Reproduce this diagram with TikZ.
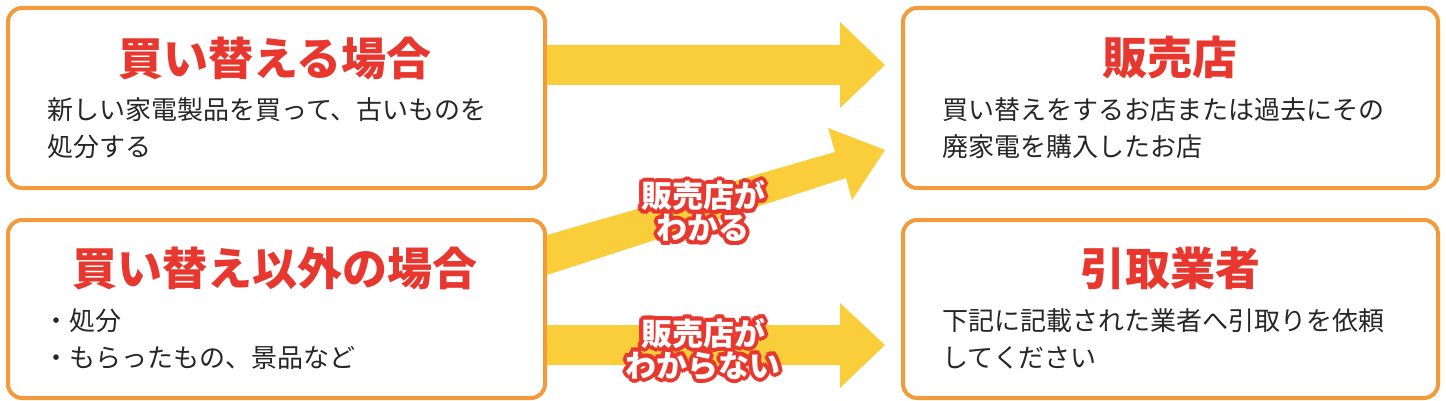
\documentclass[tikz,border=0pt]{standalone}
\usepackage{fontspec}
\setmainfont{Noto Sans CJK JP}
\definecolor{boxorange}{HTML}{F39A3A}
\definecolor{titlered}{HTML}{E8372F}
\definecolor{arrowyellow}{HTML}{F9CE3A}
\newcommand{\outlinedtext}[3]{% name, position, text
  \foreach \ang in {0,30,...,330}
    \node[tag,text=titlered] at ($(#2)+(\ang:4)$) {#3};
  \node[tag,text=white] (#1) at (#2) {#3};}
\usetikzlibrary{calc}
\begin{document}
\begin{tikzpicture}[x=1pt,y=-1pt,
  box/.style={draw=boxorange,line width=4pt,rounded corners=14pt,fill=white},
  title/.style={text=titlered,font=\fontsize{45}{47}\selectfont\bfseries},
  body/.style={anchor=north west,align=left,font=\fontsize{26}{37}\selectfont,text=black!85},
  tag/.style={align=center,font=\fontsize{31}{32}\selectfont\bfseries},
  bigarrow/.style={fill=arrowyellow}]
\useasboundingbox (0,0) rectangle (1446,401);

% boxes
\draw[box] (8,8) rectangle (545,188);
\draw[box] (8,220) rectangle (545,398);
\draw[box] (903,8) rectangle (1438,188);
\draw[box] (903,220) rectangle (1438,398);

% arrows
\fill[bigarrow] (547,45) -- (840,45) -- (840,22) -- (885,65) -- (840,108) -- (840,85) -- (547,85) -- cycle;
\fill[bigarrow] (547,235) -- (835,152) -- (828,128) -- (885,150) -- (852,200) -- (846,178) -- (547,275) -- cycle;
\fill[bigarrow] (547,325) -- (840,325) -- (840,303) -- (885,345) -- (840,388) -- (840,365) -- (547,365) -- cycle;

% titles
\node[title] (t1) at (275,58) {買い替える場合};
\node[title] (t2) at (275,268) {買い替え以外の場合};
\node[title] (t3) at (1170,58) {販売店};
\node[title] (t4) at (1170,268) {引取業者};

% body texts
\node[body] (b1) at (44,94) {新しい家電製品を買って、古いものを\\処分する};
\node[body] (b2) at (40,305) {・処分\\・もらったもの、景品など};
\node[body] (b3) at (939,94) {買い替えをするお店または過去にその\\廃家電を購入したお店};
\node[body] (b4) at (939,305) {下記に記載された業者へ引取りを依頼\\してください};

% tags
\coordinate (p1) at (703,211);
\coordinate (p2) at (703,349);
\outlinedtext{l1}{p1}{販売店が\\わかる}
\outlinedtext{l2}{p2}{販売店が\\わからない}
\end{tikzpicture}
\end{document}
